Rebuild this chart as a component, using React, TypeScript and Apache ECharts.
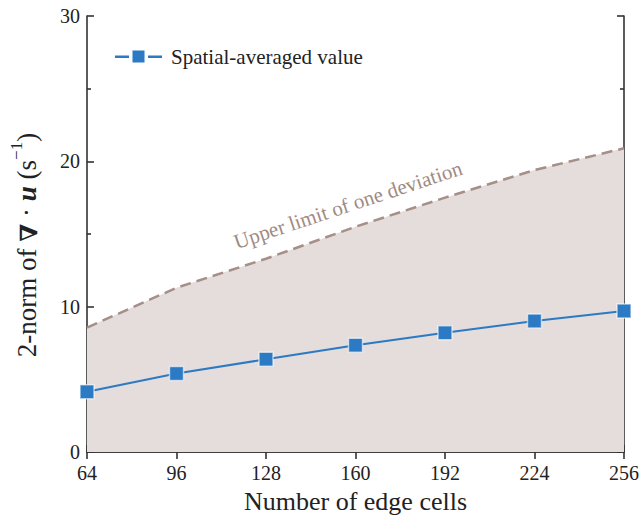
import React, { useEffect, useRef } from "react";
import * as echarts from "echarts";

const edgeCells = [64, 96, 128, 160, 192, 224, 256];
const spatialAvg = [4.14, 5.4, 6.38, 7.34, 8.21, 9.01, 9.7];
const upperLimit = [8.56, 11.3, 13.3, 15.5, 17.5, 19.4, 20.9];
const yTicks = [0, 10, 20, 30];

const FONT = "Liberation Serif";
const BLUE = "#2b7ac3";
const LEGEND_ICON =
  "path://M0,5 L14,5 L14,7.4 L0,7.4 Z M17.5,0 L29.5,0 L29.5,12 L17.5,12 Z M33,5 L47,5 L47,7.4 L33,7.4 Z";

export default function App() {
  const ref = useRef<HTMLDivElement>(null);
  useEffect(() => {
    if (!ref.current) return;
    const chart = echarts.init(ref.current, null, { renderer: "svg" });
    const axisLine = { show: true, lineStyle: { color: "#333", width: 1.6 } };
    const tick = { show: true, inside: true, length: 7, lineStyle: { color: "#333", width: 1.6 } };
    const minor = { show: true, splitNumber: 2, length: 4, lineStyle: { color: "#333", width: 1.6 } };
    chart.setOption({
      animation: false,
      textStyle: { fontFamily: FONT },
      grid: { left: 84, top: 16, right: 15, bottom: 66, containLabel: false },
      legend: {
        show: true,
        data: [{ name: "Spatial-averaged value", icon: LEGEND_ICON }],
        left: 110,
        top: 41,
        itemWidth: 47,
        itemHeight: 12,
        itemStyle: { color: BLUE, borderWidth: 0 },
        textStyle: { fontFamily: FONT, fontSize: 21, color: "#222", padding: [0, 0, 0, 4] },
      },
      xAxis: [
        {
          type: "value",
          min: edgeCells[0],
          max: edgeCells[edgeCells.length - 1],
          interval: 32,
          position: "bottom",
          axisLine,
          axisTick: tick,
          axisLabel: { fontFamily: FONT, fontSize: 20, color: "#222", margin: 11 },
          splitLine: { show: false },
          name: "Number of edge cells",
          nameLocation: "middle",
          nameGap: 36,
          nameTextStyle: { fontFamily: FONT, fontSize: 26, color: "#222" },
        },
        {
          type: "value",
          min: edgeCells[0],
          max: edgeCells[edgeCells.length - 1],
          interval: 32,
          position: "top",
          axisLine,
          axisTick: tick,
          axisLabel: { show: false },
          splitLine: { show: false },
        },
      ],
      yAxis: [
        {
          type: "value",
          min: 0,
          max: 30,
          interval: 10,
          position: "left",
          axisLine,
          axisTick: tick,
          minorTick: minor,
          axisLabel: {
            fontFamily: FONT,
            fontSize: 20,
            color: "#222",
            margin: 7,
            formatter: (v: number) => (yTicks.includes(v) ? String(v) : ""),
          },
          splitLine: { show: false },
          name: "{t|2-norm of }{b|∇}{t| · }{u|u}{t| (s}{sup|−1}{t|)}{sp| }",
          nameLocation: "middle",
          nameRotate: 90,
          nameGap: 47,
          nameTextStyle: {
            fontFamily: FONT,
            fontSize: 27,
            color: "#222",
            rich: {
              t: { fontFamily: FONT, fontSize: 27, color: "#222", lineHeight: 32, verticalAlign: "bottom" },
              b: { fontFamily: "DejaVu Serif", fontSize: 24, fontWeight: "bold", color: "#222", lineHeight: 32, verticalAlign: "bottom" },
              u: { fontFamily: FONT, fontSize: 27, fontWeight: "bold", fontStyle: "italic", color: "#222", lineHeight: 32, verticalAlign: "bottom" },
              sup: { fontFamily: FONT, fontSize: 17, color: "#222", lineHeight: 32, verticalAlign: "top" },
              sp: { fontFamily: FONT, fontSize: 27, width: 22, lineHeight: 32, color: "rgba(0,0,0,0)" },
            },
          },
        },
        {
          type: "value",
          min: 0,
          max: 30,
          interval: 10,
          position: "right",
          axisLine,
          axisTick: tick,
          minorTick: minor,
          axisLabel: { show: false },
          splitLine: { show: false },
        },
      ],
      series: [
        {
          name: "Upper limit of one deviation",
          type: "line",
          data: edgeCells.map((x, i) => [x, upperLimit[i]]),
          symbol: "none",
          lineStyle: { color: "#a58f88", width: 2.5, type: [11, 6] },
          areaStyle: { color: "#e5dcdc", opacity: 1 },
          z: 1,
          silent: true,
        },
        {
          name: "Spatial-averaged value",
          type: "line",
          data: edgeCells.map((x, i) => [x, spatialAvg[i]]),
          symbol: "rect",
          symbolSize: 14,
          itemStyle: { color: BLUE, borderColor: "rgba(255,255,255,0.6)", borderWidth: 1.5 },
          lineStyle: { color: BLUE, width: 2 },
          z: 3,
        },
      ],
      graphic: [
        {
          type: "text",
          x: 348,
          y: 205,
          rotation: (18.3 * Math.PI) / 180,
          style: {
            text: "Upper limit of one deviation",
            fontFamily: FONT,
            fontSize: 21,
            fill: "#a08a84",
            align: "center",
            verticalAlign: "middle",
          },
          z: 10,
        },
      ],
    });
    return () => chart.dispose();
  }, []);
  return (
    <div
      ref={ref}
      style={{ position: "fixed", left: 0, top: 0, width: 642, height: 519, background: "#fff" }}
    />
  );
}
